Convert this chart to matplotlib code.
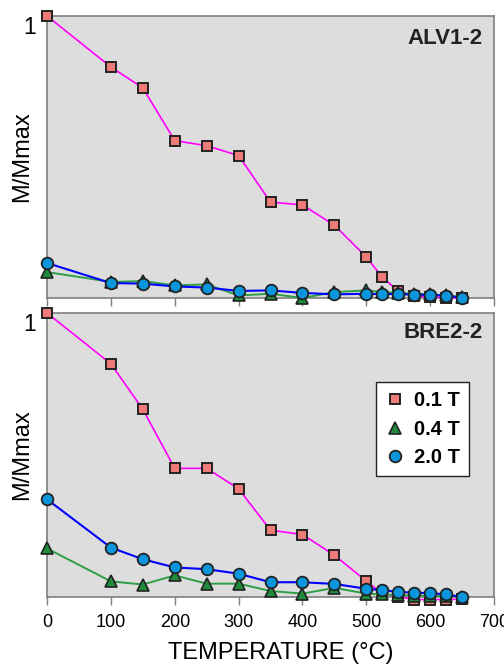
import matplotlib
matplotlib.use("Agg")
import matplotlib.pyplot as plt
from matplotlib.lines import Line2D

plt.rcParams['font.family'] = ['Liberation Sans', 'DejaVu Sans']

temps = [0, 100, 150, 200, 250, 300, 350, 400, 450, 500, 525, 550, 575, 600, 625, 650]

# ALV1-2
alv_01 = [1.0, 0.819, 0.745, 0.558, 0.540, 0.505, 0.340, 0.330, 0.258, 0.145, 0.074, 0.024, 0.007, 0.004, 0.001, 0.0]
alv_04 = [0.092, 0.057, 0.060, 0.045, 0.048, 0.009, 0.015, 0.0, 0.021, 0.027, 0.021, 0.018, 0.015, 0.013, 0.009, 0.004]
alv_20 = [0.124, 0.053, 0.051, 0.041, 0.037, 0.025, 0.027, 0.018, 0.013, 0.015, 0.014, 0.014, 0.012, 0.011, 0.008, 0.001]

# BRE2-2
bre_01 = [1.0, 0.821, 0.661, 0.453, 0.453, 0.381, 0.235, 0.220, 0.147, 0.056, 0.012, 0.0, -0.009, -0.009, -0.009, -0.008]
bre_04 = [0.171, 0.055, 0.044, 0.076, 0.047, 0.047, 0.021, 0.012, 0.032, 0.012, 0.009, 0.006, 0.005, 0.004, 0.003, 0.0]
bre_20 = [0.344, 0.174, 0.133, 0.104, 0.098, 0.082, 0.052, 0.052, 0.046, 0.029, 0.024, 0.018, 0.015, 0.014, 0.009, 0.0]

labels = ['0.1 T', '0.4 T', '2.0 T']
panel_names = ['ALV1-2', 'BRE2-2']
xticks = [0, 100, 200, 300, 400, 500, 600, 700]

sq_face = '#EE7B78'
tri_face = '#1F8A3A'
cir_face = '#0A96DC'
edge = '#222222'
spine_c = '#7F7F7F'

fig = plt.figure(figsize=(5.04, 6.64), dpi=100)
ax1 = fig.add_axes([0.0933, 0.5512, 0.887, 0.4247])
ax2 = fig.add_axes([0.0933, 0.1009, 0.887, 0.4277])

def draw(ax, s01, s04, s20, name, name_y, show_xlabels):
    ax.set_facecolor('#DDDDDD')
    ax.plot(temps, s01, color='#FF00FF', lw=1.2, marker='s', ms=7.8, mfc=sq_face,
            mec=edge, mew=1.4, clip_on=False, zorder=3)
    ax.plot(temps, s04, color='#2E9E45', lw=1.4, marker='^', ms=8.5, mfc=tri_face,
            mec=edge, mew=1.2, clip_on=False, zorder=4)
    ax.plot(temps, s20, color='#0000FF', lw=1.5, marker='o', ms=8.4, mfc=cir_face,
            mec=edge, mew=1.3, clip_on=False, zorder=5)
    ax.set_xlim(0, 700)
    ax.set_ylim(0, 1)
    ax.set_xticks(xticks)
    ax.set_yticks([1])
    ax.set_yticklabels(['1'], fontsize=16.5)
    for t in ax.get_yticklabels():
        t.set_verticalalignment('top')
    ax.tick_params(axis='y', length=0, pad=8)
    ax.tick_params(axis='x', length=6, width=1, color=spine_c, labelsize=13, pad=6)
    if not show_xlabels:
        ax.set_xticklabels([])
    for sp in ax.spines.values():
        sp.set_color(spine_c)
        sp.set_linewidth(1.2)
    ax.set_ylabel('M/Mmax', fontsize=17)
    ax.yaxis.set_label_coords(-0.031, 0.5)
    ax.text(0.975, name_y, name, transform=ax.transAxes, ha='right', va='center',
            fontsize=16, fontweight='bold', color='#222222')

draw(ax1, alv_01, alv_04, alv_20, panel_names[0], 0.92, False)
draw(ax2, bre_01, bre_04, bre_20, panel_names[1], 0.93, True)
ax2.set_xlabel('TEMPERATURE (°C)', fontsize=17, va='top')
ax2.xaxis.set_label_coords(0.523, -0.157)

handles = [
    Line2D([], [], ls='none', marker='s', ms=7.8, mfc=sq_face, mec=edge, mew=1.4),
    Line2D([], [], ls='none', marker='^', ms=8.5, mfc=tri_face, mec=edge, mew=1.2),
    Line2D([], [], ls='none', marker='o', ms=8.4, mfc=cir_face, mec=edge, mew=1.3),
]
leg = ax2.legend(handles, labels, loc='upper right', bbox_to_anchor=(0.944, 0.757),
                 borderaxespad=0, frameon=True, fancybox=False, framealpha=1,
                 edgecolor='#222222', prop={'weight': 'bold', 'size': 14.5},
                 handlelength=1.0, handletextpad=0.45, labelspacing=0.48,
                 borderpad=0.45)
leg.get_frame().set_linewidth(1.0)

fig.savefig('out.png', dpi=100)
